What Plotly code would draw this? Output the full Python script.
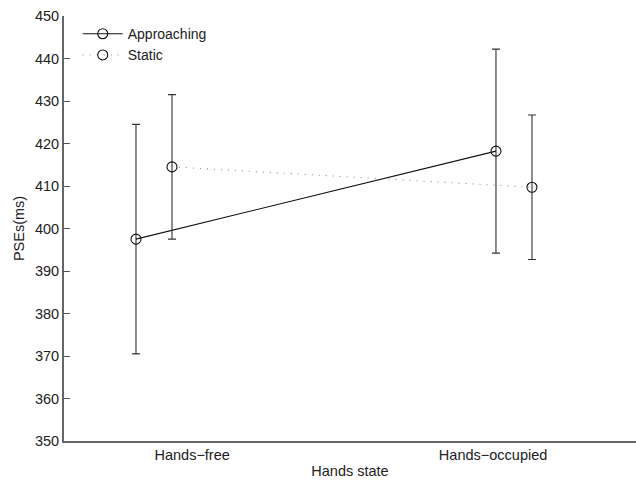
import plotly.graph_objects as go

# Conditions and group positions on the x axis
conditions = ["Hands-free", "Hands-occupied"]
approach_x = [0.95, 1.95]
static_x = [1.05, 2.05]
label_x = [1.106, 1.942]

# Mean PSEs (ms) and error bar half-lengths
approach_mean = [397.5, 418.2]
approach_err = [27.0, 24.0]
static_mean = [414.5, 409.7]
static_err = [17.0, 17.0]

font_family = "Liberation Sans, Arial, Helvetica, sans-serif"
ink = "#222222"

fig = go.Figure()

fig.add_trace(go.Scatter(
    x=approach_x, y=approach_mean, name="Approaching",
    mode="lines+markers",
    line=dict(color="#111111", width=1.1),
    marker=dict(symbol="circle-open", size=10, color="#111111", line=dict(width=1.1)),
    error_y=dict(type="data", array=approach_err, visible=True,
                 color="#333333", thickness=1.1, width=4),
))

fig.add_trace(go.Scatter(
    x=static_x, y=static_mean, name="Static",
    mode="lines+markers",
    line=dict(color="#888888", width=1.1, dash="1px,6px"),
    marker=dict(symbol="circle-open", size=10, color="#111111", line=dict(width=1.1)),
    error_y=dict(type="data", array=static_err, visible=True,
                 color="#333333", thickness=1.1, width=4),
))

fig.update_layout(
    width=636, height=482,
    margin=dict(l=64, r=0, t=16, b=41),
    paper_bgcolor="white", plot_bgcolor="white",
    font=dict(family=font_family, size=14.5, color=ink),
    showlegend=True,
    legend=dict(
        x=0.024, y=0.995, xanchor="left", yanchor="top",
        bgcolor="rgba(0,0,0,0)", borderwidth=0,
        font=dict(size=14, color=ink),
        tracegroupgap=0, itemwidth=40,
    ),
)

fig.update_xaxes(
    range=[0.75, 2.339],
    tickmode="array", tickvals=label_x, ticktext=["Hands\u2212free", "Hands\u2212occupied"],
    ticks="", showgrid=False, zeroline=False,
    showline=True, linecolor="#666666", linewidth=2,
    tickfont=dict(size=14.5, color=ink),
    title=dict(text="Hands state", font=dict(size=14.5, color=ink), standoff=3),
)

fig.update_yaxes(
    range=[350, 450],
    tickmode="linear", tick0=350, dtick=10,
    ticks="inside", ticklen=6, tickcolor="#555555", tickwidth=1,
    showgrid=False, zeroline=False,
    showline=True, linecolor="#666666", linewidth=2,
    tickfont=dict(size=14.5, color=ink),
    title=dict(text="PSEs(ms)", font=dict(size=14.5, color=ink), standoff=7),
)

fig.write_html("out.html")
